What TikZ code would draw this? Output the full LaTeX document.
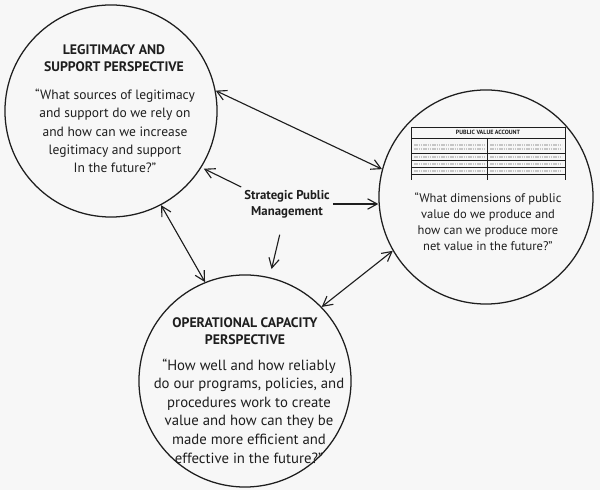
\documentclass[tikz,border=0pt]{standalone}
\usepackage{fontspec}
\setmainfont{PT Sans}
\usetikzlibrary{arrows.meta,calc}
\definecolor{paper}{RGB}{247,247,247}
\definecolor{ink}{RGB}{30,30,30}

\begin{document}
\begin{tikzpicture}[x=0.025cm,y=-0.025cm,
  persp/.style={draw=ink,circle,line width=0.9pt,minimum size=5.3cm,inner sep=0pt},
  head/.style={font=\bfseries\fontsize{9.8}{12}\selectfont,align=center,text=ink},
  body/.style={font=\fontsize{9.6}{13}\selectfont,align=center,text=ink},
  ar/.style={-{Straight Barb[length=2.4mm,width=2.6mm]},line width=0.8pt,draw=ink},
  dar/.style={{Straight Barb[length=2.4mm,width=2.6mm]}-{Straight Barb[length=2.4mm,width=2.6mm]},line width=0.8pt,draw=ink},
  rule/.style={line width=0.35pt,draw=ink},
  fake/.style={line width=0.9pt,draw=gray!45,dash pattern=on 1.2pt off 0.4pt}]
\fill[paper] (0,0) rectangle (600,490);
\useasboundingbox (0,0) rectangle (600,490);

\node[persp] (legit) at (111,111) {};
\node[persp,minimum size=5.35cm] (value) at (486,197) {};
\node[persp] (ops) at (245,381) {};

\node[head] (legithead) at (114,58) {LEGITIMACY AND\\SUPPORT PERSPECTIVE};
\node[body] (legitq) at (115,131) {“What sources of legitimacy\\and support do we rely on\\and how can we increase\\legitimacy and support\\In the future?”};

\node[head] (opshead) at (245,331) {OPERATIONAL CAPACITY\\PERSPECTIVE};
\node[body,font=\fontsize{10.5}{13.2}\selectfont] (opsq) at (249,411) {“How well and how reliably\\do our programs, policies, and\\procedures work to create\\value and how can they be\\made more efficient and\\effective in the future?”};

\node[body,font=\fontsize{8.9}{11.4}\selectfont] (valueq) at (488,222) {“What dimensions of public\\value do we produce and\\how can we produce more\\net value in the future?”};

% public value account sketch
\draw[rule] (411,180) -- (411,127) -- (565,127) -- (565,180);
\draw[rule] (487,138) -- (487,180);
\foreach \y in {138,153,160,167,174} \draw[rule] (411,\y) -- (565,\y);
\foreach \y in {145,149,157,164,171} {
  \draw[fake] (414,\y) -- (484,\y);
  \draw[fake] (490,\y) -- (562,\y);
}
\node[font=\bfseries\fontsize{4.3}{5}\selectfont,text=ink] (pva) at (488,132.5) {PUBLIC VALUE ACCOUNT};

\node[font=\bfseries\fontsize{9.1}{11.4}\selectfont,align=center,text=ink,inner sep=2pt] (spm) at (287,204) {Strategic Public\\Management};

\draw[dar] (legit.11) -- (value.165);
\draw[dar] (legit.-62) -- (ops.112);
\draw[dar] (value.210) -- (ops.44);
\draw[ar] (spm.north west) -- ($(legit.-32)!0.06!(spm.north west)$);
\draw[ar] (spm.east) -- (spm.east -| value.west);
\draw[ar,shorten <=10pt,shorten >=6pt] (spm) -- (ops);
\end{tikzpicture}
\end{document}
